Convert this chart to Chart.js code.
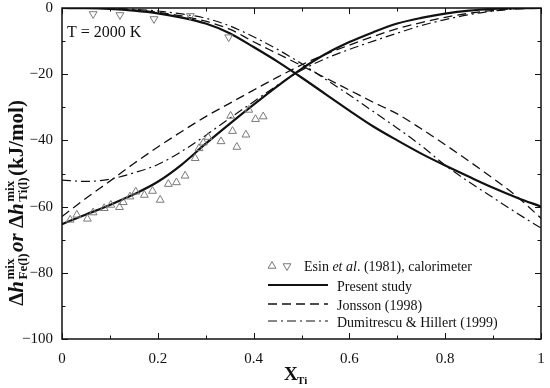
<!DOCTYPE html>
<html>
<head>
<meta charset="utf-8">
<script src="https://cdn.jsdelivr.net/npm/chart.js@4/dist/chart.umd.min.js"></script>
<style>
  body { margin: 0; background: #fff; }
  #wrap { width: 550px; height: 388px; position: relative; }
</style>
</head>
<body>
<div id="wrap"><canvas id="enthalpyChart"></canvas></div>
<script>
// mole fraction of Ti for the model curves
const xGrid = [0, 0.05, 0.1, 0.15, 0.2, 0.25, 0.3, 0.35, 0.4, 0.45, 0.5,
               0.55, 0.6, 0.65, 0.7, 0.75, 0.8, 0.85, 0.9, 0.95, 1];

// present study (solid)
const presentTi = [-65.3, -62.4, -59.5, -56.3, -52.5, -47.3, -41, -35, -29.2, -23.6, -18.4,
                   -13.9, -10.3, -7.3, -4.7, -3, -1.7, -0.8, -0.3, -0.05, 0];
const presentFe = [0, -0.05, -0.3, -0.8, -1.6, -2.9, -4.7, -7.6, -11.8, -16.2, -21,
                   -26, -31, -35.8, -40, -44, -47.6, -51, -54.3, -57.3, -60];
// Jonsson (1998) (dashed)
const jonssonTi = [-63, -57.5, -52.3, -47, -42, -37.3, -32.8, -28.8, -24.8, -20.9, -17.2,
                   -14, -11.2, -8.6, -6.2, -4.4, -2.8, -1.6, -0.7, -0.2, 0];
const jonssonFe = [0, 0, -0.2, -0.6, -1.3, -2.4, -4, -6.4, -10.2, -13.8, -17.4,
                   -21.1, -24.8, -28.5, -32, -36.5, -41.3, -46.3, -51.5, -57, -63.5];
// Dumitrescu & Hillert (1999) (dash-dot)
const dumiTi = [-52, -52.4, -51.7, -49.8, -47.3, -43.3, -38.5, -33.3, -28.3, -23.3, -18.8,
                -15.3, -12.5, -10, -7.6, -5.3, -3.5, -2, -0.9, -0.3, 0];
const dumiFe = [0, 0, -0.1, -0.4, -0.9, -1.8, -3.1, -5.4, -8.7, -12.5, -16.8,
                -21.5, -26.3, -31.3, -36.3, -41.6, -47.5, -52.6, -57.3, -62, -66.5];

// Esin et al. (1981), calorimeter
const esinTiX = [0.017, 0.031, 0.053, 0.065, 0.088, 0.102, 0.120, 0.128, 0.142, 0.154, 0.172, 0.189, 0.205, 0.222,
                 0.239, 0.257, 0.278, 0.286, 0.295, 0.305, 0.332, 0.352, 0.356, 0.365, 0.384, 0.390, 0.404, 0.420];
const esinTiY = [-64.0, -62.5, -63.7, -61.8, -60.5, -59.5, -60.2, -58.7, -57.0, -55.5, -56.5, -55.3, -58.0, -53.2,
                 -52.7, -50.7, -45.4, -42.4, -40.7, -39.0, -40.3, -32.6, -37.2, -42.0, -38.3, -30.8, -33.6, -32.8];
const esinFeX = [0.065, 0.121, 0.192, 0.268, 0.348];
const esinFeY = [-1.8, -2.1, -3.3, -2.4, -8.8];

const xTicks = [0, 0.2, 0.4, 0.6, 0.8, 1];
const yTicks = [0, -20, -40, -60, -80, -100];

const serif = '"Liberation Serif", "DejaVu Serif", serif';

function curve(ys) {
  return xGrid.map((x, i) => ({ x: x, y: ys[i] }));
}
function points(xs, ys) {
  return xs.map((x, i) => ({ x: x, y: ys[i] }));
}

function lineSet(label, ys, width, dash) {
  return {
    label: label,
    data: curve(ys),
    showLine: true,
    borderColor: '#111',
    borderWidth: width,
    borderDash: dash,
    pointRadius: 0,
    cubicInterpolationMode: 'monotone',
    fill: false
  };
}

// box, inside ticks, labels and legend
const decorations = {
  id: 'decorations',
  afterDraw(chart) {
    const ctx = chart.ctx;
    const ca = chart.chartArea;
    const xs = chart.scales.x, ys = chart.scales.y;
    ctx.save();
    ctx.strokeStyle = '#111';
    ctx.lineWidth = 1.5;
    ctx.strokeRect(ca.left, ca.top, ca.right - ca.left, ca.bottom - ca.top);

    ctx.lineWidth = 1;
    ctx.beginPath();
    for (let i = 0; i <= 10; i++) {
      const px = Math.round(xs.getPixelForValue(i / 10)) + 0.5;
      const len = i % 2 === 0 ? 6 : 3.5;
      ctx.moveTo(px, ca.bottom); ctx.lineTo(px, ca.bottom - len);
      ctx.moveTo(px, ca.top); ctx.lineTo(px, ca.top + len);
    }
    for (let i = 0; i <= 10; i++) {
      const py = Math.round(ys.getPixelForValue(-i * 10)) + 0.5;
      const len = i % 2 === 0 ? 6 : 3.5;
      ctx.moveTo(ca.left, py); ctx.lineTo(ca.left + len, py);
      ctx.moveTo(ca.right, py); ctx.lineTo(ca.right - len, py);
    }
    ctx.stroke();

    ctx.fillStyle = '#111';
    ctx.textBaseline = 'middle';
    ctx.font = '16px ' + serif;
    ctx.fillText('T = 2000 K', 67, 33);

    // legend
    const lx = 268, lx2 = 328;
    ctx.strokeStyle = '#777';
    ctx.lineWidth = 1;
    drawTri(ctx, 272, 266, 4.5, false);
    drawTri(ctx, 287, 266, 4.5, true);
    ctx.strokeStyle = '#111';
    const rows = [[285, 2.2, []], [304, 1.3, [9, 5]], [321, 1.2, [9, 4, 2, 4]]];
    rows.forEach(r => {
      ctx.lineWidth = r[1];
      ctx.setLineDash(r[2]);
      ctx.beginPath(); ctx.moveTo(lx, r[0]); ctx.lineTo(lx2, r[0]); ctx.stroke();
    });
    ctx.setLineDash([]);
    ctx.font = '14px ' + serif;
    let tx = 304;
    ctx.fillText('Esin ', tx, 267); tx += ctx.measureText('Esin ').width;
    ctx.font = 'italic 14px ' + serif;
    ctx.fillText('et al', tx, 267); tx += ctx.measureText('et al').width;
    ctx.font = '14px ' + serif;
    ctx.fillText('. (1981), calorimeter', tx, 267);
    ctx.fillText('Present study', 337, 287);
    ctx.fillText('Jonsson (1998)', 337, 306);
    ctx.fillText('Dumitrescu & Hillert (1999)', 337, 323);

    // x title
    ctx.textBaseline = 'alphabetic';
    ctx.font = 'bold 19px ' + serif;
    ctx.fillText('X', 284, 380);
    ctx.font = 'bold 11px ' + serif;
    ctx.fillText('Ti', 297, 384);

    // y title, rotated
    const parts = [
      ['main', 'Δ', 'bold'], ['main', 'h', 'bold italic'], ['pair', 'mix', 'Fe(l)'],
      ['main', 'or', 'bold italic'], ['main', ' Δ', 'bold'], ['main', 'h', 'bold italic'],
      ['pair', 'mix', 'Ti(l)'], ['main', '(kJ/mol)', 'bold']
    ];
    const mainF = 21, subF = 13;
    let total = 0;
    parts.forEach(p => {
      if (p[0] === 'main') { ctx.font = p[2] + ' ' + mainF + 'px ' + serif; total += ctx.measureText(p[1]).width; }
      else { ctx.font = 'bold ' + subF + 'px ' + serif; total += Math.max(ctx.measureText(p[1]).width, ctx.measureText(p[2]).width) + 3; }
    });
    ctx.translate(23, 203);
    ctx.rotate(-Math.PI / 2);
    let cx = -total / 2;
    parts.forEach(p => {
      if (p[0] === 'main') {
        ctx.font = p[2] + ' ' + mainF + 'px ' + serif;
        ctx.fillText(p[1], cx, 0);
        cx += ctx.measureText(p[1]).width;
      } else {
        ctx.font = 'bold ' + subF + 'px ' + serif;
        ctx.fillText(p[1], cx + 1.5, -9);
        ctx.fillText(p[2], cx + 1.5, 4);
        cx += Math.max(ctx.measureText(p[1]).width, ctx.measureText(p[2]).width) + 3;
      }
    });
    ctx.restore();
  }
};

function drawTri(ctx, x, y, r, down) {
  const s = down ? -1 : 1;
  ctx.beginPath();
  ctx.moveTo(x, y - s * r);
  ctx.lineTo(x + r * 0.866, y + s * r * 0.5);
  ctx.lineTo(x - r * 0.866, y + s * r * 0.5);
  ctx.closePath();
  ctx.stroke();
}

new Chart(document.getElementById('enthalpyChart'), {
  type: 'scatter',
  data: {
    datasets: [
      {
        label: 'Esin Ti',
        data: points(esinTiX, esinTiY),
        pointStyle: 'triangle',
        pointRadius: 4.5,
        pointBorderColor: '#7a7a7a',
        pointBackgroundColor: 'rgba(255,255,255,0)',
        pointBorderWidth: 1
      },
      {
        label: 'Esin Fe',
        data: points(esinFeX, esinFeY),
        pointStyle: 'triangle',
        rotation: 180,
        pointRadius: 4.5,
        pointBorderColor: '#7a7a7a',
        pointBackgroundColor: 'rgba(255,255,255,0)',
        pointBorderWidth: 1
      },
      lineSet('Present study Ti', presentTi, 2.2, []),
      lineSet('Present study Fe', presentFe, 2.2, []),
      lineSet('Jonsson Ti', jonssonTi, 1.3, [9, 5]),
      lineSet('Jonsson Fe', jonssonFe, 1.3, [9, 5]),
      lineSet('Dumitrescu Ti', dumiTi, 1.2, [9, 4, 2, 4]),
      lineSet('Dumitrescu Fe', dumiFe, 1.2, [9, 4, 2, 4])
    ]
  },
  options: {
    responsive: true,
    maintainAspectRatio: false,
    animation: false,
    layout: { padding: { top: 8, right: 9, left: 0, bottom: 0 } },
    plugins: { legend: { display: false }, tooltip: { enabled: false } },
    scales: {
      x: {
        type: 'linear', min: 0, max: 1,
        afterFit: s => { s.height = 49; s.paddingLeft = 0; s.paddingRight = 0; },
        afterBuildTicks: s => { s.ticks = xTicks.map(v => ({ value: v })); },
        grid: { display: false, drawTicks: false },
        border: { display: false },
        ticks: {
          padding: 11, color: '#111',
          font: { family: serif, size: 15 },
          callback: v => (v === 0 || v === 1) ? String(v) : v.toFixed(1)
        }
      },
      y: {
        min: -100, max: 0,
        afterFit: s => { s.width = 62; s.paddingTop = 0; s.paddingBottom = 0; },
        afterBuildTicks: s => { s.ticks = yTicks.map(v => ({ value: v })); },
        grid: { display: false, drawTicks: false },
        border: { display: false },
        ticks: {
          padding: 9, color: '#111',
          font: { family: serif, size: 15 },
          callback: v => v === 0 ? '0' : '\u2212' + Math.abs(v)
        }
      }
    }
  },
  plugins: [decorations]
});
</script>
</body>
</html>
